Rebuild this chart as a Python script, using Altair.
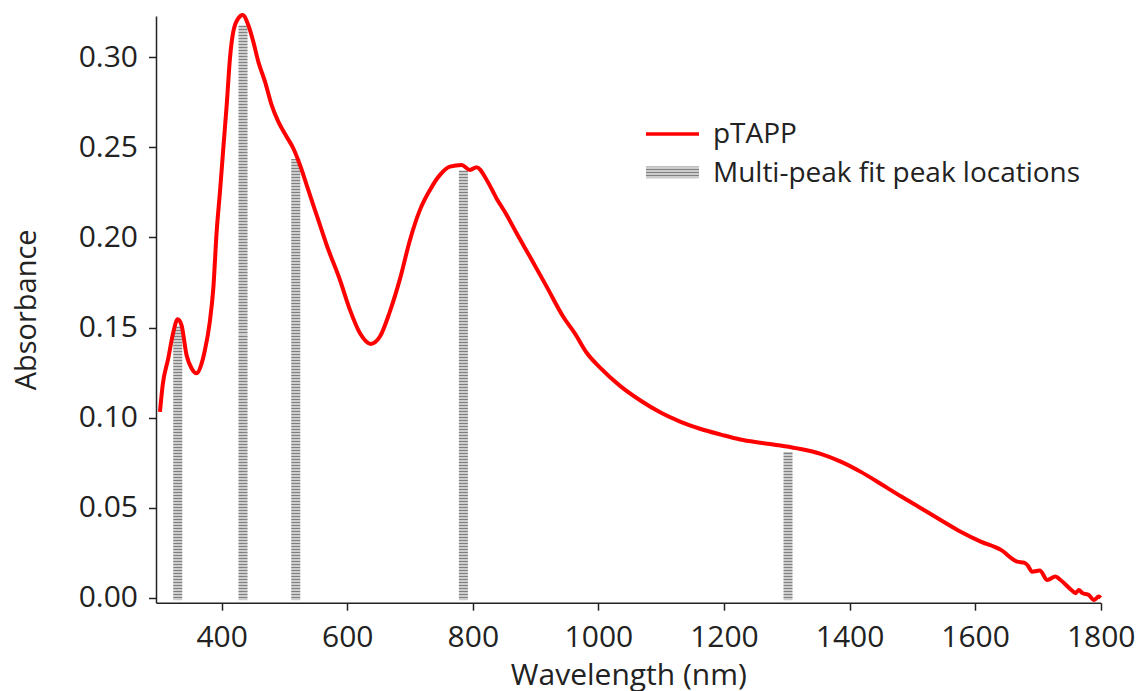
import altair as alt
import pandas as pd

# Absorption spectrum of pTAPP (wavelength in nm, absorbance)
wavelength = [
    301.7, 306, 315, 322, 330, 336, 344, 352, 360, 368, 373, 381,
    386.7, 392, 397.3, 402.6, 408, 413.2, 418.5, 426.4, 433.4, 442.4,
    450.3, 458.3, 469, 479.6, 490.2, 503.5, 514, 524.7, 535.4, 545.9,
    556.6, 567.2, 588.4, 604.3, 620.3, 637.3, 652.1, 668, 684, 699.9,
    715.8, 731.8, 747.7, 763.6, 782.2, 795.5, 806.1, 822.1, 838, 853.9,
    869.8, 891, 917.6, 944, 963, 981.3, 1003.5, 1035, 1067, 1099, 1131,
    1163, 1195, 1226, 1258, 1290, 1322, 1354, 1386, 1418, 1450,
    1481, 1513, 1545, 1577, 1609, 1641, 1667, 1678, 1683, 1691,
    1698, 1703, 1715, 1728, 1736, 1752, 1760, 1765, 1771, 1781,
    1789, 1797, 1800,
]
absorbance = [
    0.1032, 0.118, 0.133, 0.1459, 0.1546, 0.1514, 0.1348, 0.1274, 0.1246, 0.1300, 0.1370, 0.1530,
    0.1718, 0.2032, 0.2254, 0.2495, 0.2735, 0.2994, 0.3142, 0.3216, 0.3235, 0.3179,
    0.3087, 0.2976, 0.2865, 0.2735, 0.2643, 0.2559, 0.2495, 0.2402, 0.2291, 0.2180,
    0.2069, 0.1958, 0.1764, 0.1598, 0.1468, 0.1409, 0.1450, 0.1590, 0.1770, 0.1986,
    0.2153, 0.2264, 0.2347, 0.2393, 0.2402, 0.2375, 0.2390, 0.2319, 0.2215, 0.2125,
    0.2023, 0.1893, 0.1727, 0.1560, 0.1465, 0.1360, 0.1275, 0.1175, 0.1095, 0.1028, 0.0977,
    0.0937, 0.0906, 0.0879, 0.0861, 0.0845, 0.0826, 0.0799, 0.0756, 0.0699, 0.0632,
    0.0565, 0.0499, 0.0432, 0.0367, 0.0312, 0.0266, 0.0201, 0.0195, 0.0183, 0.0145,
    0.0149, 0.0152, 0.0099, 0.0118, 0.0099, 0.0048, 0.0026, 0.0044, 0.0026, 0.0016,
    -0.0012, 0.0007, 0.0,
]

# Multi-peak fit: peak centres (nm) and heights
peak_nm = [330, 434, 518, 785, 1302]
peak_height = [0.1505, 0.3175, 0.2436, 0.237, 0.0806]

x_ticks = [400, 600, 800, 1000, 1200, 1400, 1600, 1800]
y_ticks = [0.0, 0.05, 0.10, 0.15, 0.20, 0.25, 0.30]
legend_labels = ["pTAPP", "Multi-peak fit peak locations"]

FONT = "Open Sans"
INK = "#222222"
RED = "#ff0000"
STRIPE_DARK = "#808080"
STRIPE_LIGHT = "#cdcdcd"
W, H = 944.7, 586.7
X_DOMAIN = [295.4, 1800]
Y_DOMAIN = [-0.0027, 0.3229]
BAR_BASE = -0.0013      # bars start just under the zero line
BAR_HALF_NM = 7.2       # half width of a peak marker, in nm
STRIPE_PX = 3.0         # period of the horizontal hatching, in px


def hatch(n_stripes):
    """Vertical linear gradient that draws n horizontal hatch lines."""
    stops = []
    for i in range(n_stripes):
        a = i / n_stripes
        b = (i + 1 / 3) / n_stripes
        c = (i + 1) / n_stripes
        stops += [
            alt.GradientStop(offset=a, color=STRIPE_DARK),
            alt.GradientStop(offset=b, color=STRIPE_DARK),
            alt.GradientStop(offset=b, color=STRIPE_LIGHT),
            alt.GradientStop(offset=c, color=STRIPE_LIGHT),
        ]
    return alt.Gradient(gradient="linear", stops=stops, x1=0, x2=0, y1=0, y2=1)


spectrum = pd.DataFrame({"wavelength": wavelength, "absorbance": absorbance})
peaks = pd.DataFrame({"center": peak_nm, "height": peak_height})

x_scale = alt.Scale(domain=X_DOMAIN, nice=False, zero=False)
y_scale = alt.Scale(domain=Y_DOMAIN, nice=False, zero=False)

common = dict(grid=False, tickColor=INK, tickWidth=1.5, tickSize=7.5)

# main axes: line, outward ticks and labels
x_axis = alt.Axis(
    values=x_ticks, format="d", title="Wavelength (nm)", labelFlush=False,
    labelOverlap=False, labelFont=FONT, labelFontSize=30, labelColor=INK,
    labelPadding=12, titleFont=FONT, titleFontSize=30, titleFontWeight="normal",
    titleColor=INK, titleY=82, titleBaseline="alphabetic",
    domainColor=INK, domainWidth=1.5, orient="bottom", **common,
)
y_axis = alt.Axis(
    values=y_ticks, format=".2f", title="Absorbance", labelFlush=False,
    labelOverlap=False, labelFont=FONT, labelFontSize=30, labelColor=INK,
    labelPadding=11, titleFont=FONT, titleFontSize=29, titleFontWeight="normal",
    titleColor=INK, titleX=-121, titleBaseline="alphabetic",
    domainColor=INK, domainWidth=1.5, orient="left", **common,
)
# inner halves of the ticks, so that they cross the axis lines
x_axis_in = alt.Axis(values=x_ticks, labels=False, domain=False, title="",
                     offset=-7.5, orient="bottom", **common)
y_axis_in = alt.Axis(values=y_ticks, labels=False, domain=False, title="",
                     offset=-7.5, orient="left", **common)

px_per_unit = H / (Y_DOMAIN[1] - Y_DOMAIN[0])
bar_layers = []
for i, (c, h) in enumerate(zip(peak_nm, peak_height)):
    n = max(1, round((h - BAR_BASE) * px_per_unit / STRIPE_PX))
    first = i == 0
    bar_layers.append(
        alt.Chart(peaks[peaks["center"] == c])
        .transform_calculate(
            left=f"datum.center - {BAR_HALF_NM}",
            right=f"datum.center + {BAR_HALF_NM}",
        )
        .mark_bar(fill=hatch(n), stroke="transparent")
        .encode(
            x=alt.X("left:Q", scale=x_scale, axis=x_axis_in if first else None),
            x2="right:Q",
            y=alt.Y("height:Q", scale=y_scale, axis=y_axis_in if first else None),
            y2=alt.datum(BAR_BASE),
        )
    )

bars = alt.layer(*bar_layers)

line = alt.Chart(spectrum).mark_line(color=RED, strokeWidth=4, interpolate="monotone").encode(
    x=alt.X("wavelength:Q", scale=x_scale, axis=x_axis),
    y=alt.Y("absorbance:Q", scale=y_scale, axis=y_axis),
)

one = pd.DataFrame({"k": [0]})
leg_line = alt.Chart(one).mark_rule(color=RED, strokeWidth=3.5).encode(
    x=alt.value(490), x2=alt.value(543), y=alt.value(118)
)
leg_rect = alt.Chart(one).mark_rect(fill=hatch(4), stroke="transparent").encode(
    x=alt.value(490), x2=alt.value(543), y=alt.value(150.5), y2=alt.value(162.5)
)
leg_text1 = alt.Chart(one).mark_text(
    align="left", baseline="alphabetic", font=FONT, fontSize=28, color=INK
).encode(x=alt.value(557), y=alt.value(127.5), text=alt.value(legend_labels[0]))
leg_text2 = alt.Chart(one).mark_text(
    align="left", baseline="alphabetic", font=FONT, fontSize=28, color=INK
).encode(x=alt.value(557), y=alt.value(165.7), text=alt.value(legend_labels[1]))

chart = (
    alt.layer(bars, line, leg_line, leg_rect, leg_text1, leg_text2)
    .resolve_scale(x="independent", y="independent")
    .resolve_axis(x="independent", y="independent")
    .properties(
        width=W, height=H,
        padding={"left": 156, "top": 16, "right": 43, "bottom": 88},
        autosize=alt.AutoSizeParams(type="none"),
        background="white",
    )
    .configure_view(stroke="transparent")
)

chart.save("out.html", embed_options={"renderer": "svg", "actions": False})
